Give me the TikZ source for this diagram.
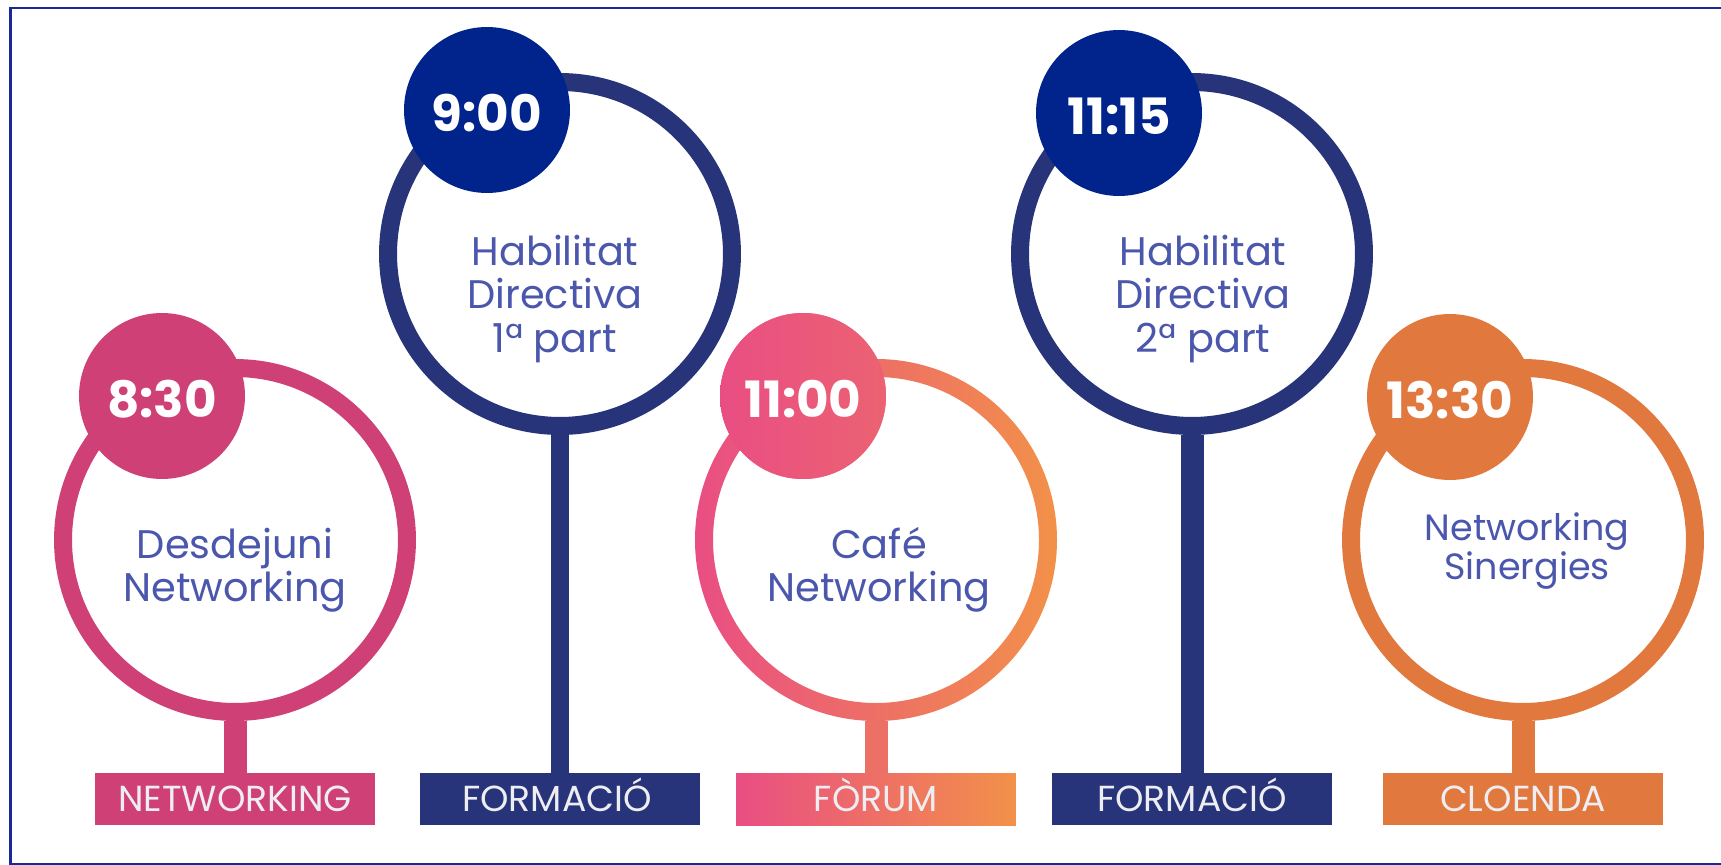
\documentclass[tikz,border=0pt]{standalone}
\usepackage{fontspec}
\setmainfont{Poppins}
\usepackage{tikz}
\definecolor{netpink}{RGB}{206,64,118}
\definecolor{formnavy}{RGB}{40,52,122}
\definecolor{timenavy}{RGB}{0,36,140}
\definecolor{forumpink}{RGB}{233,78,131}
\definecolor{forumorange}{RGB}{242,145,73}
\definecolor{closeorange}{RGB}{225,120,62}
\definecolor{txtblue}{RGB}{74,87,172}
\definecolor{labelgrey}{RGB}{238,238,242}
\definecolor{framecol}{RGB}{28,40,150}
\usetikzlibrary{positioning}
\usetikzlibrary{calc}
\tikzset{ringc/.style={
    circle,inner sep=0pt,minimum size=6.88cm,line width=0.36cm,
    fill=white,draw=#1
  },
  timedot/.style={
    circle,inner sep=0pt,minimum size=3.32cm,fill=#1,text=white,
    font=\fontsize{28.5}{30}\selectfont\bfseries,
    text height=0.86cm,text depth=0pt
  },
  taglabel/.style={
    rectangle,inner sep=0pt,minimum width=5.6cm,minimum height=1.04cm,
    fill=#1,text=labelgrey,font=\fontsize{20.6}{22}\selectfont,
    text height=0.5cm,text depth=0pt
  },
  eventtxt/.style={
    align=center,inner sep=0pt,text=txtblue,
    font=\fontsize{22.7}{24.5}\selectfont
  },
  stemline/.style={
    line width=0.46cm,draw=#1
  }
}

\begin{document}
\begin{tikzpicture}[x=0.02cm,y=-0.02cm]
      \useasboundingbox (0,0) rectangle (1721,865);
      \draw[framecol,line width=0.05cm] (1721,8) -- (10.5,8) -- (10.5,864) -- (1721,864);
      % rings
      \node[ringc=netpink] (ringA) at (235,540) {};
      \node[ringc=formnavy] (ringB) at (560,254) {};
      \node[ringc=none] (ringC) at (876,540) {};
      \shade[left color=forumpink,right color=forumorange,even odd rule] (ringC.center) circle[radius=181] circle[radius=163];
      \node[ringc=formnavy] (ringD) at (1192,254) {};
      \node[ringc=closeorange] (ringE) at (1523,540) {};
      % labels at the bottom
      \node[taglabel=netpink] (tagA) at (235,799) {NETWORKING};
      \node[taglabel=formnavy] (tagB) at (560,799) {\hspace*{-0.12cm}FORMACIÓ};
      \node[taglabel=forumpink,left color=forumpink,right color=forumorange] (tagC) at (876,799) {FÒRUM};
      \node[taglabel=formnavy] (tagD) at (1192,799) {FORMACIÓ};
      \node[taglabel=closeorange] (tagE) at (1523,799) {CLOENDA};
      \draw[stemline=netpink] (ringA.south) -- (tagA.north);
      \draw[stemline=formnavy,line width=0.36cm] (ringB.south) -- (tagB.north);
      \draw[stemline=forumpink!50!forumorange] (ringC.south) -- (tagC.north);
      \draw[stemline=formnavy] (ringD.south) -- (tagD.north);
      \draw[stemline=closeorange] (ringE.south) -- (tagE.north);
      % times
      \node[timedot=netpink] (timeA) at (162,396) {8:30};
      \node[timedot=timenavy] (timeB) at (487,110) {9:00};
      \node[timedot=forumpink,left color=forumpink,right color=forumpink!70!forumorange] (timeC) at (803,396) {11:00};
      \node[timedot=timenavy] (timeD) at (1119,113) {11:15};
      \node[timedot=closeorange] (timeE) at (1450,397) {13:30};
      \node[eventtxt] (txtA) at (235,570) {Desdejuni\\Networking};
      \node[eventtxt] (txtB) at (555,299) {Habilitat\\Directiva\\1ª part};
      \node[eventtxt] (txtC) at (879,570) {Café\\Networking};
      \node[eventtxt] (txtD) at (1203,299) {Habilitat\\Directiva\\2ª part};
      \node[eventtxt,font=\fontsize{20.8}{22}\selectfont] (txtE) at (1527,551) {Networking\\Sinergies};
\end{tikzpicture}
\end{document}
